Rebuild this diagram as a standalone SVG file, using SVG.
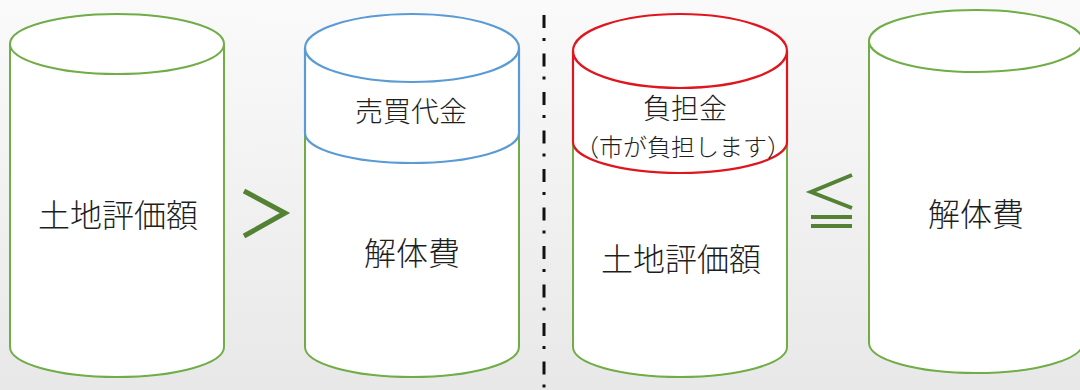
<svg xmlns="http://www.w3.org/2000/svg" width="1080" height="390" viewBox="0 0 1080 390">
<defs>
<linearGradient id="bg" x1="0" y1="0" x2="0" y2="1">
<stop offset="0" stop-color="#fafafa"/>
<stop offset="1" stop-color="#e8e8e8"/>
</linearGradient>
<style>
.body{fill:#ffffff;stroke:none}
.g{fill:none;stroke:#70ad47;stroke-width:2}
.b{fill:none;stroke:#5b9bd5;stroke-width:2.2}
.r{fill:none;stroke:#e0161e;stroke-width:2.2}
.t{font-family:"Noto Sans CJK JP","Noto Sans CJK SC",sans-serif;font-weight:300;fill:#1e1e1e;text-anchor:middle;dominant-baseline:central}
.sym{fill:none;stroke:#548235;stroke-linecap:butt}
</style>
</defs>
<rect x="0" y="0" width="1080" height="390" fill="url(#bg)"/>

<g id="cyl1">
<path class="body" d="M10,44 A107,30 0 0 1 224,44 L224,347 A107,30 0 0 1 10,347 Z"/>
<path class="g" d="M10,44 L10,347 A107,30 0 0 0 224,347 L224,44"/>
<ellipse class="g" cx="117" cy="44" rx="107" ry="30"/>
<text class="t" x="118" y="213" font-size="32">土地評価額</text>
</g>

<g id="cyl2">
<path class="body" d="M305,48 A107,34 0 0 1 519,48 L519,347 A107,30 0 0 1 305,347 Z"/>
<path class="g" d="M305,133 L305,347 A107,30 0 0 0 519,347 L519,133"/>
<path class="b" d="M305,48 L305,133 A107,30 0 0 0 519,133 L519,48"/>
<ellipse class="b" cx="412" cy="48" rx="107" ry="34"/>
<text class="t" x="411" y="110" font-size="28">売買代金</text>
<text class="t" x="412" y="251" font-size="32">解体費</text>
</g>

<g id="cyl3">
<path class="body" d="M573,51 A107,37 0 0 1 787,51 L787,347 A107,30 0 0 1 573,347 Z"/>
<path class="g" d="M573,142 L573,347 A107,30 0 0 0 787,347 L787,142"/>
<path class="r" d="M573,51 L573,142 A107,31 0 0 0 787,142 L787,51"/>
<ellipse class="r" cx="680" cy="51" rx="107" ry="37"/>
<text class="t" x="685" y="107" font-size="28">負担金</text>
<text class="t" x="683" y="145" font-size="24">（市が負担します）</text>
<text class="t" x="681" y="257" font-size="32">土地評価額</text>
</g>

<g id="cyl4">
<path class="body" d="M869,41 A107,31 0 0 1 1083,41 L1083,343 A107,30 0 0 1 869,343 Z"/>
<path class="g" d="M869,41 L869,343 A107,30 0 0 0 1083,343 L1083,41"/>
<ellipse class="g" cx="976" cy="41" rx="107" ry="31"/>
<text class="t" x="976" y="212" font-size="32">解体費</text>
</g>

<g id="connectors">
<line x1="544" y1="15" x2="544" y2="390" stroke="#111" stroke-width="3" stroke-dasharray="13 10 3 12.5"/>
<polyline class="sym" points="244,191 285,213 244,236" stroke-width="5"/>
<polyline class="sym" points="852,175 811,192 852,208" stroke-width="4"/>
<line class="sym" x1="811" y1="217" x2="852" y2="217" stroke-width="4"/>
<line class="sym" x1="811" y1="226" x2="852" y2="226" stroke-width="4"/>
</g>
</svg>
